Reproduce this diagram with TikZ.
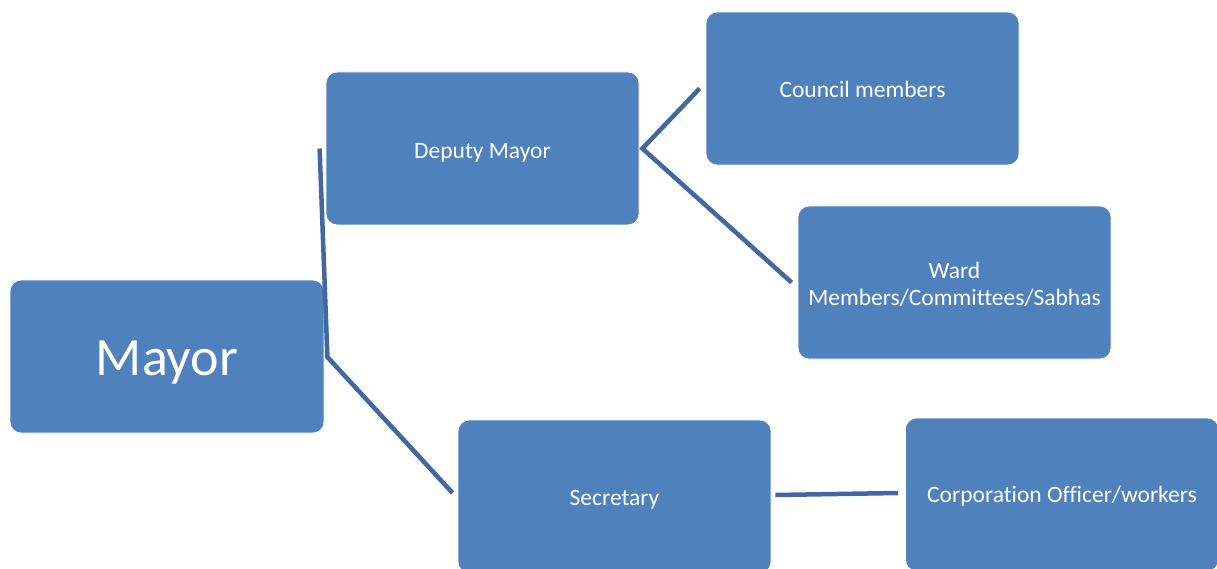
\documentclass[tikz,border=0pt]{standalone}
\usepackage{fontspec}
\setmainfont{Carlito}[Ligatures=NoCommon]
\usetikzlibrary{calc}
\definecolor{boxblue}{HTML}{4F81BD}
\definecolor{linkblue}{HTML}{4169A0}
% set a label a little lower without changing its box
\newcommand\lowlabel[2]{\raisebox{-#1}[\height][\depth]{#2}}
\begin{document}
\begin{tikzpicture}[x=1pt,y=-1pt,
  orgbox/.style={rectangle, rounded corners=11pt, fill=boxblue, draw=white, line width=0.8pt,
    minimum width=313pt, minimum height=153pt, text=white, align=center,
    font=\fontsize{23.5}{27}\selectfont, inner sep=0pt},
  link/.style={draw=linkblue, line width=4.5pt}]
\clip (0,0) rectangle (1217,569);
\fill[white] (0,0) rectangle (1217,569);

% boxes
\node[orgbox, minimum width=314pt, font=\fontsize{54}{58}\selectfont] (mayor) at (167,356.5) {\lowlabel{6pt}{Mayor}};
\node[orgbox] (deputy) at (482.5,148.5) {\lowlabel{4pt}{Deputy Mayor}};
\node[orgbox] (council) at (862.5,88.5) {\lowlabel{1pt}{Council members}};
\node[orgbox] (ward) at (954.5,282.5) {\lowlabel{4pt}{\begin{tabular}{@{}c@{}}Ward\\Members/Committees/Sabhas\end{tabular}}};
\node[orgbox] (secretary) at (614.5,496.5) {\lowlabel{3pt}{Secretary}};
\node[orgbox, minimum width=313pt] (corp) at (1062,494.5) {\lowlabel{2pt}{Corporation Officer/workers}};

% connectors
\coordinate (mhub) at ($(mayor.east)+(3,0.5)$);
\coordinate (dhub) at ($(deputy.east)+(3,0)$);
\draw[link] ($(deputy.west)+(-6,0)$) -- (mhub) -- ($(secretary.west)+(-5,-3.5)$);
\draw[link] ($(council.west)+(-6,0)$) -- (dhub) -- ($(ward.west)+(-6,0)$);
\draw[link] ($(secretary.east)+(4,-1.5)$) -- ($(corp.west)+(-7,-1.5)$);
\end{tikzpicture}
\end{document}
